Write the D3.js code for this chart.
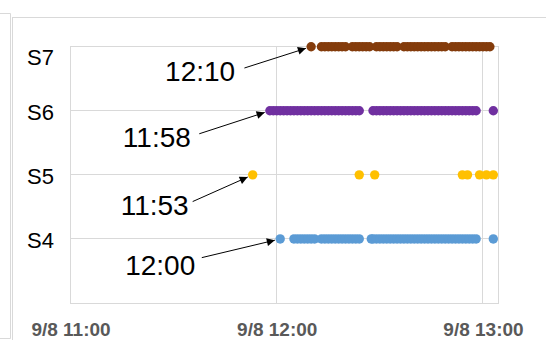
<!DOCTYPE html>
<html lang="en">
<head>
    <title>Sensor start times</title>
    <script src="https://d3js.org/d3.v7.min.js"></script>
    <style>
        body { margin: 0; background: #fff; }
        text { font-family: "Liberation Sans", Arial, sans-serif; }
    </style>
</head>
<body>

<script>
    // times, 9/8
    const s4Times = ["12:01","12:05","12:06","12:07","12:08","12:09","12:10","12:11","12:13","12:14",
        "12:15","12:16","12:17","12:18","12:19","12:20","12:21","12:22","12:23","12:24",
        "12:27:30","12:28","12:29","12:30","12:31","12:32","12:33","12:34","12:35","12:36",
        "12:37","12:38","12:39","12:40","12:41","12:42","12:43","12:44","12:45","12:46",
        "12:47","12:48","12:49","12:50","12:51","12:52","12:53","12:54","12:55","12:56",
        "12:57","12:58","13:03"];
    const s5Times = ["11:53","12:24","12:28:30","12:54","12:55:30","12:59","13:01","13:03"];
    const s6Times = ["11:58","11:59","12:00","12:01","12:02","12:03","12:04","12:05","12:06","12:07",
        "12:08","12:09","12:10","12:11","12:12","12:13","12:14","12:15","12:16","12:17",
        "12:18","12:19","12:20","12:21","12:22","12:23","12:24",
        "12:28","12:29","12:30","12:31","12:32","12:33","12:34","12:35","12:36","12:37",
        "12:38","12:39","12:40","12:41","12:42","12:43","12:44","12:45","12:46","12:47","12:48",
        "12:49","12:50","12:51","12:52","12:53","12:54","12:55","12:56","12:57","12:58","13:03"];
    const s7Times = ["12:10","12:13","12:14","12:15","12:16","12:17","12:18","12:19","12:20","12:22",
        "12:23","12:24","12:25","12:26","12:27","12:29","12:30","12:31","12:32","12:33",
        "12:34","12:35","12:37","12:38","12:39","12:40","12:41","12:42","12:43","12:44",
        "12:45","12:46","12:47","12:48","12:49","12:51","12:52","12:53","12:54","12:55",
        "12:56","12:57","12:58","12:59","13:00","13:01","13:02"];

    const seriesNames = ["S4", "S5", "S6", "S7"];
    const seriesLevels = [4, 5, 6, 7];
    const seriesColors = ["#5B9BD5", "#FFC000", "#7030A0", "#843C0C"];
    const seriesTimes = [s4Times, s5Times, s6Times, s7Times];

    const xTicks = ["11:00", "12:00", "13:00"];
    const xDomain = ["11:00", "13:04:22"];
    const yDomain = [3, 7];

    const annotLabels = ["12:10", "11:58", "11:53", "12:00"];
    const annotSeries = ["S7", "S6", "S5", "S4"];
    const annotTimes = ["12:10", "11:58", "11:53", "12:01"];

    const parseT = s => {
        const p = s.split(":").map(Number);
        return new Date(2019, 8, 8, p[0], p[1], p[2] || 0);
    };

    const W = 546, H = 340;
    const svg = d3.select("body").append("svg").attr("width", W).attr("height", H);

    const x = d3.scaleTime().domain(xDomain.map(parseT)).range([70.5, 498]);
    const y = d3.scaleLinear().domain(yDomain).range([303, 46.7]);

    // outer frames (neighbouring chart edge + this chart's box)
    svg.append("path")
        .attr("d", "M0,13.5H10.5V338.5H0")
        .attr("fill", "none").attr("stroke", "#d9d9d9");
    svg.append("rect")
        .attr("x", 12.5).attr("y", 17.5).attr("width", 600).attr("height", 400)
        .attr("fill", "none").attr("stroke", "#d9d9d9");

    // grid
    const grid = svg.append("g").attr("stroke", "#d9d9d9").attr("shape-rendering", "crispEdges");
    grid.selectAll("line.h").data([4, 5, 6]).join("line")
        .attr("x1", x.range()[0]).attr("x2", x.range()[1])
        .attr("y1", d => y(d)).attr("y2", d => y(d));
    grid.selectAll("line.v").data(xTicks.slice(1).map(parseT)).join("line")
        .attr("x1", d => x(d)).attr("x2", d => x(d))
        .attr("y1", y.range()[0]).attr("y2", y.range()[1]);
    grid.append("rect")
        .attr("x", x.range()[0]).attr("y", y.range()[1])
        .attr("width", x.range()[1] - x.range()[0])
        .attr("height", y.range()[0] - y.range()[1])
        .attr("fill", "none");

    // x axis
    const fmt = d3.timeFormat("%-m/%-d %H:%M");
    const xAxis = svg.append("g")
        .attr("transform", `translate(0,${y.range()[0]})`)
        .call(d3.axisBottom(x).tickValues(xTicks.map(parseT)).tickFormat(fmt).tickSize(0).tickPadding(0));
    xAxis.select(".domain").remove();
    xAxis.selectAll("text")
        .attr("y", 33).attr("dy", null)
        .attr("font-family", "Liberation Sans, Arial, sans-serif")
        .attr("font-size", 19).attr("font-weight", "bold")
        .attr("fill", "#595959");

    // y labels
    svg.append("g").selectAll("text").data(seriesNames).join("text")
        .attr("x", 27)
        .attr("y", (d, i) => y(seriesLevels[i]) + (seriesLevels[i] === yDomain[1] ? 10 : 1))
        .attr("dy", "0.36em")
        .attr("font-size", 22).attr("fill", "#000")
        .text(d => d);

    // points
    seriesNames.forEach((name, i) => {
        svg.append("g").selectAll("circle").data(seriesTimes[i]).join("circle")
            .attr("cx", d => x(parseT(d)))
            .attr("cy", y(seriesLevels[i]))
            .attr("r", 4.7)
            .attr("fill", seriesColors[i]);
    });

    // annotations
    const defs = svg.append("defs");
    defs.append("marker").attr("id", "ah")
        .attr("viewBox", "0 0 10 10").attr("refX", 10).attr("refY", 5)
        .attr("markerWidth", 11).attr("markerHeight", 8)
        .attr("markerUnits", "userSpaceOnUse")
        .attr("orient", "auto")
        .append("path").attr("d", "M0,0L10,5L0,10Z").attr("fill", "#000");

    const textOff = [[-111, 24], [-113, 26.5], [-98, 30], [-120, 26]];
    const startOff = [[-66.7, 21.3], [-70.6, 23], [-60, 26.7], [-78.4, 18.7]];

    annotLabels.forEach((lab, i) => {
        const si = seriesNames.indexOf(annotSeries[i]);
        const px = x(parseT(annotTimes[i])), py = y(seriesLevels[si]);
        const sx = px + startOff[i][0], sy = py + startOff[i][1];
        const len = Math.hypot(sx - px, sy - py);
        const tx = px + (sx - px) / len * 5.5, ty = py + (sy - py) / len * 5.5;
        svg.append("line")
            .attr("x1", sx).attr("y1", sy).attr("x2", tx).attr("y2", ty)
            .attr("stroke", "#000").attr("stroke-width", 1)
            .attr("marker-end", "url(#ah)");
        svg.append("text")
            .attr("x", px + textOff[i][0]).attr("y", py + textOff[i][1])
            .attr("dy", "0.36em").attr("text-anchor", "middle")
            .attr("font-size", 28).attr("fill", "#000")
            .text(lab);
    });
</script>

</body>
</html>
